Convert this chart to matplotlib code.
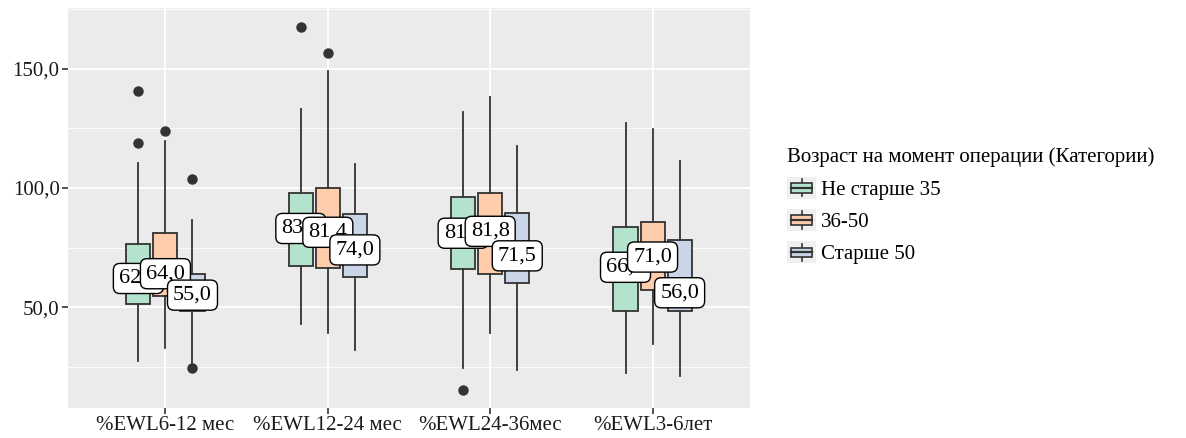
import matplotlib.pyplot as plt
from matplotlib.legend_handler import HandlerBase
from matplotlib.patches import Rectangle, Patch
from matplotlib.lines import Line2D
from matplotlib.ticker import FuncFormatter, MultipleLocator

plt.rcParams['font.family'] = ['Liberation Serif', 'DejaVu Serif']

groups = ["%EWL6-12 мес", "%EWL12-24 мес", "%EWL24-36мес", "%EWL3-6лет"]
series = ["Не старше 35", "36-50", "Старше 50"]
colors = ["#b3e2cd", "#fdcdac", "#cbd5e8"]

# Не старше 35
young_lo = [27.3, 42.9, 24.4, 22.1]
young_q1 = [51.1, 67.4, 66.1, 48.4]
young_med = [62.0, 83.0, 81.0, 66.7]
young_q3 = [76.5, 97.8, 96.4, 83.5]
young_hi = [110.4, 133.1, 132.1, 127.4]
young_out = [[140.8, 118.8], [167.8], [15.1], []]

# 36-50
mid_lo = [32.6, 39.2, 38.9, 34.3]
mid_q1 = [54.7, 66.6, 63.9, 57.1]
mid_med = [64.0, 81.4, 81.8, 71.0]
mid_q3 = [81.2, 99.9, 97.8, 85.9]
mid_hi = [119.7, 149.2, 138.4, 124.6]
mid_out = [[124.1], [156.6], [], []]

# Старше 50
old_lo = [24.5, 31.9, 23.5, 21.2]
old_q1 = [48.4, 62.5, 60.3, 48.4]
old_med = [55.0, 74.0, 71.5, 56.0]
old_q3 = [63.9, 89.0, 89.4, 78.2]
old_hi = [86.6, 110.1, 117.6, 111.5]
old_out = [[103.7, 24.2], [], [], []]

data = [
    (young_lo, young_q1, young_med, young_q3, young_hi, young_out),
    (mid_lo, mid_q1, mid_med, mid_q3, mid_hi, mid_out),
    (old_lo, old_q1, old_med, old_q3, old_hi, old_out),
]

dark = "#333333"
fig = plt.figure(figsize=(11.86, 4.38), dpi=100)
ax = fig.add_axes([68 / 1186, 30 / 438, 682 / 1186, 400 / 438])
ax.set_facecolor("#EBEBEB")
for s in ax.spines.values():
    s.set_visible(False)

offsets = [-1 / 6, 0, 1 / 6]
for k, (lo, q1, med, q3, hi, out) in enumerate(data):
    stats = []
    for i in range(len(groups)):
        stats.append(dict(whislo=lo[i], q1=q1[i], med=med[i], q3=q3[i],
                          whishi=hi[i], fliers=out[i]))
    pos = [i + 1 + offsets[k] for i in range(len(groups))]
    ax.bxp(stats, positions=pos, widths=0.148, patch_artist=True,
           showcaps=False, manage_ticks=False,
           boxprops=dict(facecolor=colors[k], edgecolor=dark, linewidth=1.3),
           whiskerprops=dict(color=dark, linewidth=1.3),
           medianprops=dict(color=dark, linewidth=2.2),
           flierprops=dict(marker='o', markerfacecolor=dark, markeredgecolor=dark,
                           markersize=6.5),
           zorder=3)

# median labels
for k, (lo, q1, med, q3, hi, out) in enumerate(data):
    for i in range(len(groups)):
        ax.text(i + 1 + offsets[k], med[i], f"{med[i]:.1f}".replace('.', ','),
                ha='center', va='center', fontsize=16, zorder=5 + k,
                bbox=dict(boxstyle="round,pad=0.25,rounding_size=0.3",
                          facecolor='white', edgecolor='black', linewidth=1.0))

ax.set_xlim(0.4, 4.6)
ax.set_ylim(7.6, 175.6)
ax.set_xticks(range(1, len(groups) + 1))
ax.set_xticklabels(groups)
ax.yaxis.set_major_locator(MultipleLocator(50))
ax.yaxis.set_minor_locator(MultipleLocator(25))
ax.yaxis.set_major_formatter(FuncFormatter(lambda v, p: f"{v:.1f}".replace('.', ',')))
ax.grid(True, which='major', color='white', linewidth=1.3, zorder=0)
ax.grid(True, which='minor', axis='y', color='white', linewidth=0.6, zorder=0)
ax.set_axisbelow(True)
ax.tick_params(axis='both', which='major', length=4, width=1.2, color=dark,
               labelsize=15, labelcolor='#1a1a1a', pad=2)
ax.tick_params(axis='y', which='minor', length=0)


class BoxHandler(HandlerBase):
    def create_artists(self, legend, orig_handle, xdescent, ydescent, width,
                       height, fontsize, trans):
        fc = orig_handle.get_facecolor()
        x0, y0 = -xdescent, -ydescent
        bg = Rectangle((x0, y0), width, height,
                       facecolor='#F0F0F0', edgecolor='none', transform=trans)
        cx = x0 + width / 2
        wl = Line2D([cx, cx], [y0 + 0.1 * height, y0 + 0.9 * height],
                    color=dark, linewidth=1.2, transform=trans)
        bx = Rectangle((x0 + 3, y0 + 0.28 * height), width - 6, 0.44 * height,
                       facecolor=fc, edgecolor=dark, linewidth=1.2, transform=trans)
        md = Line2D([x0 + 3, x0 + width - 3], [y0 + height / 2] * 2,
                    color=dark, linewidth=1.6, transform=trans)
        return [bg, wl, bx, md]


handles = [Patch(facecolor=c) for c in colors]
leg = fig.legend(handles, series, handler_map={Patch: BoxHandler()},
                 title="Возраст на момент операции (Категории)",
                 loc='center left', bbox_to_anchor=(787 / 1186, 232 / 438),
                 frameon=False, fontsize=15, title_fontsize=15,
                 handlelength=1.4, handleheight=1.25, handletextpad=0.25,
                 labelspacing=0.45, borderaxespad=0, borderpad=0)
leg._legend_box.align = "left"

fig.savefig("out.png", dpi=100)
